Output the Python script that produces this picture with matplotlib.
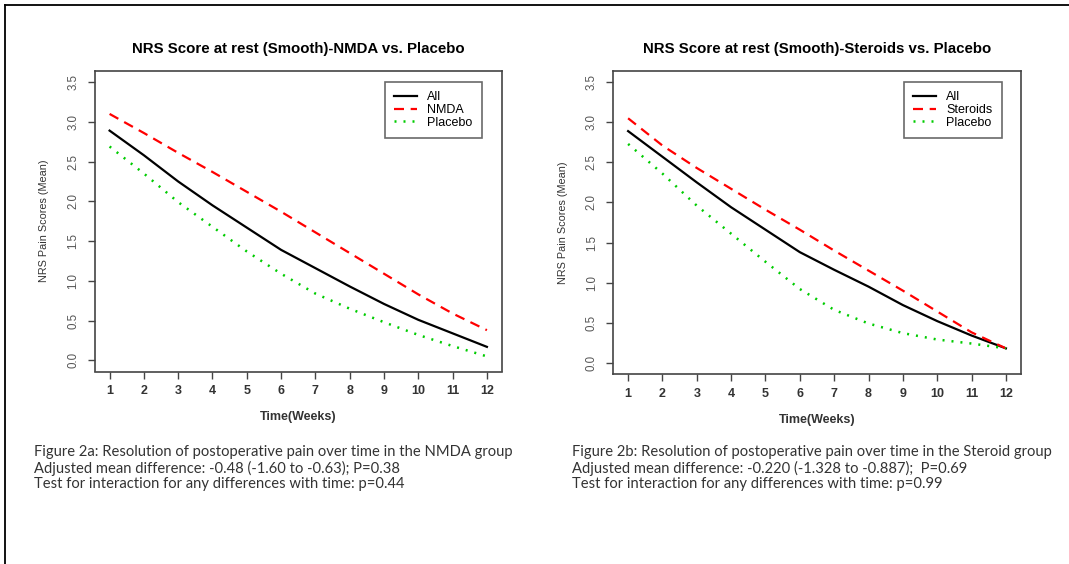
import matplotlib
matplotlib.use("Agg")
import matplotlib.pyplot as plt
from matplotlib.lines import Line2D

weeks = [1, 2, 3, 4, 5, 6, 7, 8, 9, 10, 11, 12]

# Figure 2a: NMDA vs placebo
all_a = [2.89, 2.58, 2.25, 1.95, 1.67, 1.39, 1.16, 0.93, 0.71, 0.51, 0.34, 0.17]
nmda = [3.10, 2.86, 2.61, 2.37, 2.12, 1.87, 1.61, 1.35, 1.09, 0.83, 0.59, 0.38]
placebo_a = [2.69, 2.35, 1.99, 1.68, 1.37, 1.09, 0.84, 0.65, 0.48, 0.32, 0.18, 0.05]

# Figure 2b: steroids vs placebo
all_b = [2.89, 2.57, 2.25, 1.94, 1.66, 1.38, 1.16, 0.95, 0.72, 0.52, 0.34, 0.18]
steroids = [3.05, 2.71, 2.43, 2.17, 1.91, 1.66, 1.40, 1.15, 0.90, 0.64, 0.38, 0.18]
placebo_b = [2.73, 2.36, 1.96, 1.61, 1.26, 0.92, 0.66, 0.49, 0.37, 0.29, 0.24, 0.18]

titles = ["NRS Score at rest (Smooth)-NMDA vs. Placebo",
          "NRS Score at rest (Smooth)-Steroids vs. Placebo"]
captions = [
    ["Figure 2a: Resolution of postoperative pain over time in the NMDA group",
     "Adjusted mean difference: -0.48 (-1.60 to -0.63); P=0.38",
     "Test for interaction for any differences with time: p=0.44"],
    ["Figure 2b: Resolution of postoperative pain over time in the Steroid group",
     "Adjusted mean difference: -0.220 (-1.328 to -0.887);  P=0.69",
     "Test for interaction for any differences with time: p=0.99"],
]

W, H = 1069, 564
plt.rcParams['font.family'] = ['Liberation Sans', 'DejaVu Sans']
fig = plt.figure(figsize=(W / 100, H / 100), dpi=100)

# outer frame (left and top edges visible)
fig.add_artist(Line2D([5 / W, 5 / W], [0, 1 - 5 / H], color='black', lw=1.3, transform=fig.transFigure))
fig.add_artist(Line2D([5 / W, 1], [1 - 5 / H, 1 - 5 / H], color='black', lw=1.3, transform=fig.transFigure))

gray = '#444444'


def px(x0, y0, x1, y1):
    return [x0 / W, 1 - y1 / H, (x1 - x0) / W, (y1 - y0) / H]


def panel(rect, title, series, labels, legend_xy, caption, cap_x):
    ax = fig.add_axes(rect)
    ax.plot(weeks, series[0], color='black', lw=1.6, label=labels[0])
    ax.plot(weeks, series[1], color='red', lw=1.6, dashes=(4.5, 3), label=labels[1])
    ax.plot(weeks, series[2], color='#00cc00', lw=1.8, dashes=(0.8, 2.8), label=labels[2])
    ax.set_xlim(0.56, 12.44)
    ax.set_ylim(-0.14, 3.64)
    ax.set_xticks(weeks)
    ax.set_yticks([0, 0.5, 1, 1.5, 2, 2.5, 3, 3.5])
    ax.set_yticklabels(['0.0', '0.5', '1.0', '1.5', '2.0', '2.5', '3.0', '3.5'],
                       rotation=90, va='center', color='#555555', fontsize=8.3)
    for lab in ax.get_xticklabels():
        lab.set_fontweight('bold')
    ax.tick_params(axis='x', length=5, width=1, color=gray, labelsize=9,
                   labelcolor='#333333', pad=5)
    ax.tick_params(axis='y', length=5, width=1, color=gray, pad=6)
    for s in ax.spines.values():
        s.set_color(gray)
        s.set_linewidth(1.2)
    ax.set_title(title, fontsize=10.8, fontweight='bold', pad=13)
    ax.set_xlabel('Time(Weeks)', fontsize=9, fontweight='bold', color='#333333', labelpad=10)
    ax.set_ylabel('NRS Pain Scores (Mean)', fontsize=7.8, color='#333333', labelpad=13)
    leg = ax.legend(loc='upper right', bbox_to_anchor=(legend_xy[0] / W, 1 - legend_xy[1] / H),
                    bbox_transform=fig.transFigure, borderaxespad=0, fancybox=False,
                    fontsize=9, handlelength=1.85, borderpad=0.75, labelspacing=0.05,
                    handletextpad=0.8)
    leg.get_frame().set_edgecolor(gray)
    leg.get_frame().set_linewidth(1.2)
    for i, line in enumerate(caption):
        fig.text(cap_x / W, 1 - (452 + 16 * i) / H, line, fontsize=10.6, color='#333333',
                 va='center', ha='left', family=['Lato', 'DejaVu Sans'])
    return ax


panel(px(94.5, 71, 502, 371.5), titles[0], [all_a, nmda, placebo_a],
      ['All', 'NMDA', 'Placebo'], (482, 82), captions[0], 34)
panel(px(613, 71, 1021, 374), titles[1], [all_b, steroids, placebo_b],
      ['All', 'Steroids', 'Placebo'], (1002, 82), captions[1], 572)

fig.savefig('out.png', dpi=100)
